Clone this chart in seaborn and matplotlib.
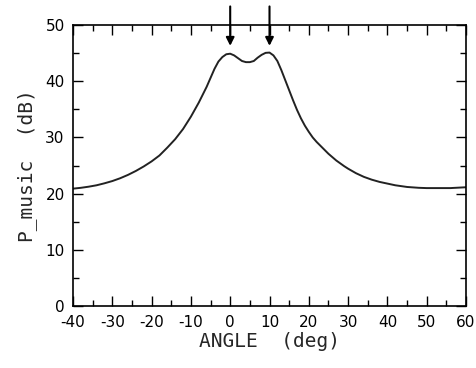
import numpy as np
import pandas as pd
import seaborn as sns
import matplotlib
matplotlib.use('Agg')
import matplotlib.pyplot as plt
from matplotlib.ticker import MultipleLocator

# values
angle = [-40, -38, -36, -34, -32, -30, -28, -26, -24, -22, -20, -18, -16, -14, -12,
         -10, -8, -6, -5, -4, -3, -2, -1, 0, 1, 2, 3, 4, 5, 6, 7, 8, 9, 10,
         11, 12, 13, 14, 15, 16, 17, 18, 19, 20, 21, 22, 23, 24, 25, 26, 27, 28,
         29, 30, 32, 34, 36, 38, 40, 42, 45, 48, 50, 53, 56, 60]
p_music = [20.9, 21.05, 21.25, 21.5, 21.85, 22.25, 22.75, 23.35, 24.05, 24.85, 25.75, 26.8, 28.2, 29.7, 31.5,
           33.7, 36.2, 39.0, 40.6, 42.2, 43.5, 44.3, 44.8, 44.9, 44.6, 44.1, 43.6, 43.4, 43.4, 43.6, 44.2, 44.7, 45.05, 45.1,
           44.6, 43.6, 42.0, 40.2, 38.4, 36.6, 34.9, 33.4, 32.1, 31.0, 30.0, 29.2, 28.5, 27.8, 27.1, 26.5, 25.9, 25.4,
           24.9, 24.45, 23.65, 23.0, 22.5, 22.1, 21.8, 21.5, 21.2, 21.05, 21.0, 21.0, 21.0, 21.15]
source_angles = [0, 10]

sns.set_style("ticks")
plt.rcParams['font.family'] = ['DejaVu Sans']
plt.rcParams['axes.unicode_minus'] = False

df = pd.DataFrame({'angle': angle, 'p': p_music})

fig = plt.figure(figsize=(4.77, 3.68), dpi=100)
ax = fig.add_axes([0.153, 0.168, 0.824, 0.764])

sns.lineplot(data=df, x='angle', y='p', ax=ax, color='#222222', linewidth=1.4)

for a in source_angles:
	ax.annotate('', xy=(a, 45.8), xytext=(a, 53.8),
		arrowprops=dict(arrowstyle='-|>', color='black', lw=1.5, mutation_scale=12),
		annotation_clip=False)

ax.set_xlim(-40, 60)
ax.set_ylim(0, 50)
ax.xaxis.set_major_locator(MultipleLocator(10))
ax.xaxis.set_minor_locator(MultipleLocator(5))
ax.yaxis.set_major_locator(MultipleLocator(10))
ax.yaxis.set_minor_locator(MultipleLocator(5))
ax.tick_params(which='both', direction='in', top=True, right=True, color='black', width=1.0)
ax.tick_params(which='major', length=7, labelsize=11, pad=6, labelcolor='black')
ax.tick_params(which='minor', length=4)
for s in ax.spines.values():
	s.set_linewidth(1.2)
	s.set_color('black')

ax.set_xlabel("ANGLE  (deg)", fontsize=14, family='DejaVu Sans Mono', labelpad=2)
ax.set_ylabel("P_music  (dB)", fontsize=14, family='DejaVu Sans Mono', labelpad=6)

fig.savefig('out.png', dpi=100)
